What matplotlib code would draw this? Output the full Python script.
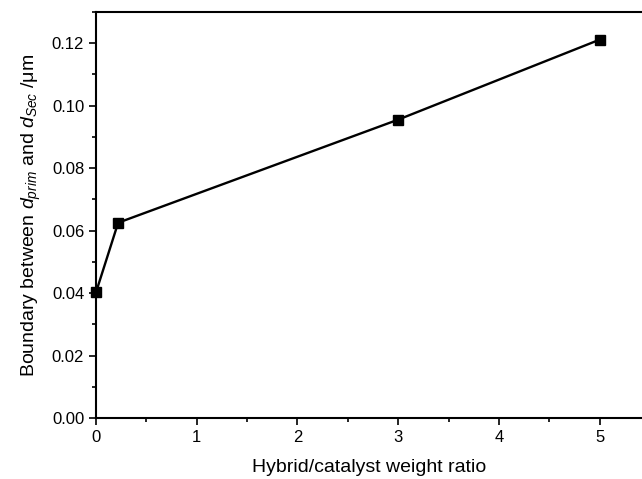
import matplotlib
matplotlib.use("Agg")
import matplotlib.pyplot as plt
from matplotlib.ticker import MultipleLocator

ratio = [0.0, 0.22, 3.0, 5.0]
boundary = [0.0402, 0.0625, 0.0955, 0.1211]

plt.rcParams["font.family"] = ["Liberation Sans", "DejaVu Sans"]
plt.rcParams["mathtext.fontset"] = "custom"
plt.rcParams["mathtext.rm"] = "Liberation Sans"
plt.rcParams["mathtext.it"] = "Liberation Sans:italic"
plt.rcParams["mathtext.bf"] = "Liberation Sans:bold"

fig = plt.figure(figsize=(6.42, 4.79), dpi=100)
ax = fig.add_axes([0.1495, 0.1273, 0.8505, 0.848])

ax.plot(ratio, boundary, color="black", lw=1.7, marker="s", ms=6.5, clip_on=False)

ax.set_xlim(0, 5.42)
ax.set_ylim(0, 0.13)
ax.xaxis.set_major_locator(MultipleLocator(1))
ax.xaxis.set_minor_locator(MultipleLocator(0.5))
ax.yaxis.set_major_locator(MultipleLocator(0.02))
ax.yaxis.set_minor_locator(MultipleLocator(0.01))
ax.yaxis.set_major_formatter(plt.FuncFormatter(lambda v, p: f"{v:.2f}"))

ax.spines["right"].set_visible(False)
for s in ("left", "bottom", "top"):
    ax.spines[s].set_linewidth(1.5)
ax.tick_params(which="both", direction="out", width=1.2, labelsize=12)
ax.tick_params(which="major", length=5)
ax.tick_params(which="minor", length=3)
ax.tick_params(axis="x", top=False)

ax.set_xlabel("Hybrid/catalyst weight ratio", fontsize=14, labelpad=10)
ax.set_ylabel(r"Boundary between $\mathit{d}_{prim}$ and $\mathit{d}_{Sec}$ /μm",
              fontsize=14, labelpad=6)

fig.savefig("out.png", dpi=100)
